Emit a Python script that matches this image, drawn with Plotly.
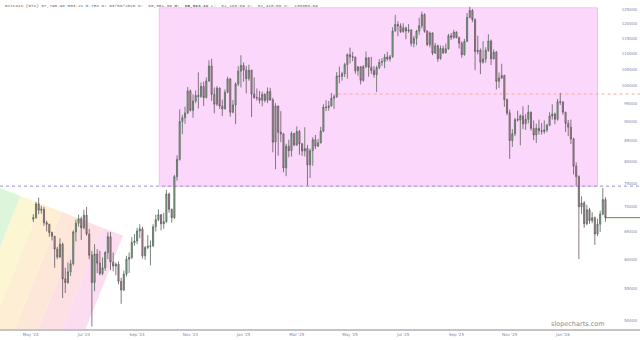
import numpy as np
import pandas as pd
import plotly.graph_objects as go

# ---------------- data (3-day candles) ----------------
candle_start = "2024-06-01"
candle_step = "3D"
first_open = 67500

close = [67800, 70600, 69300, 69500, 66800, 66500, 64900, 64200, 61800, 60400,
         62700, 56600, 56000, 57800, 59200, 65000, 66700, 67600, 65800, 68300,
         64600, 60700, 56000, 60900, 59300, 57500, 58500, 61200, 64100, 59500,
         58800, 59100, 56200, 54800, 57400, 60000, 60300, 63000, 63300, 65200,
         65600, 60600, 62100, 62300, 62400, 66000, 67400, 68400, 66600, 67000,
         72700, 69500, 67800, 76500, 80500, 90000, 91000, 92300, 98500, 93000,
         95600, 97200, 96900, 99800, 96600, 101400, 106000, 97500, 94700, 99300,
         94200, 93400, 98100, 102000, 92500, 94500, 100500, 104400, 106200, 104700,
         102100, 104700, 97600, 96600, 96500, 95800, 97500, 95800, 98300, 95900,
         84700, 94200, 87200, 86800, 78500, 83700, 82600, 86900, 84000, 87400,
         84300, 82500, 83100, 79200, 82600, 85300, 83700, 84500, 87500, 93900,
         93800, 94200, 96400, 96800, 102900, 102800, 103600, 106400, 109600, 108900,
         108800, 104500, 105700, 101600, 105800, 108600, 105600, 104600, 103300, 105500,
         107100, 107400, 108800, 108200, 108900, 117500, 119800, 119300, 117300, 118600,
         117500, 117900, 113300, 115000, 117500, 119300, 123300, 117400, 112900, 116800,
         110100, 112500, 108300, 111600, 110200, 111500, 115900, 115300, 117100, 115200,
         113400, 109600, 114000, 122300, 124800, 121500, 110600, 111000, 107200, 108200,
         111000, 114100, 108300, 110400, 101300, 102300, 103100, 96000, 92300, 85100,
         86800, 90500, 90400, 91500, 89400, 90600, 92500, 88200, 86500, 88200,
         87600, 87400, 87800, 89000, 91500, 92000, 90600, 95400, 95300, 92500,
         89500, 88500, 85500, 78900, 76500, 70000, 70800, 66600, 69400, 67200,
         67800, 64600, 66500, 68500, 71500, 67796]

high = [68500, 71000, 71900, 70200, 70000, 67200, 66600, 65100, 64200, 62200,
        63800, 63000, 58500, 59400, 59900, 65300, 67400, 68400, 68000, 69400,
        70000, 65600, 61500, 62700, 61800, 61500, 60300, 61400, 64900, 65000,
        61200, 59400, 59600, 56800, 58000, 60600, 61200, 64000, 64600, 65800,
        66500, 66000, 62400, 64400, 63400, 66500, 68400, 69500, 68500, 68800,
        73600, 73000, 69600, 76900, 81500, 93300, 91800, 94000, 99600, 98900,
        97500, 98600, 104000, 101000, 101200, 102500, 107800, 108300, 99500, 99900,
        99500, 96000, 98900, 102700, 102300, 95900, 101000, 105900, 109400, 107100,
        106000, 106400, 104800, 102500, 99200, 98500, 98300, 97800, 99500, 99400,
        96500, 95000, 94300, 92800, 86900, 84300, 85300, 87400, 87000, 88700,
        87800, 84500, 88500, 84000, 83100, 85900, 86500, 85500, 88600, 94700,
        95800, 95600, 97900, 97500, 104100, 105800, 104200, 107000, 110000, 111900,
        110500, 108900, 106000, 106000, 106300, 110600, 108700, 108900, 106000, 106100,
        108200, 108500, 109800, 110500, 109500, 118800, 123200, 120900, 120200, 120200,
        119000, 119900, 118000, 115800, 117900, 122200, 124400, 123800, 117800, 117300,
        117000, 113400, 112900, 112600, 112500, 113200, 116500, 116800, 117900, 117400,
        115600, 113900, 114800, 123900, 126200, 125400, 122000, 115900, 111600, 114000,
        112000, 116400, 114600, 111300, 110800, 104000, 106700, 103300, 96300, 93200,
        88000, 91000, 92900, 91900, 94100, 92000, 94500, 92700, 90300, 89400,
        90500, 89600, 90300, 89400, 92500, 94700, 92400, 96200, 97900, 95600,
        92600, 90400, 90500, 85800, 79800, 76800, 72200, 71200, 70400, 69800,
        68900, 68000, 67600, 69200, 74000, 72000]

low = [66900, 67600, 68500, 68600, 66200, 65100, 64100, 63400, 58500, 60000,
       60200, 53500, 54300, 55800, 57100, 58900, 63200, 66000, 63500, 65500,
       64300, 60000, 49200, 54600, 57600, 57200, 57200, 58000, 60000, 58100,
       57900, 57200, 55700, 52600, 54600, 57000, 57600, 60000, 62400, 62700,
       63800, 60100, 59900, 61800, 58900, 62200, 65100, 67100, 65300, 65600,
       66800, 68800, 66800, 67500, 75600, 80200, 86700, 89400, 92000, 92700,
       91000, 95000, 93500, 96500, 94200, 96300, 101200, 95600, 92200, 94200,
       93400, 91500, 93300, 97800, 91300, 92200, 89300, 99900, 99500, 101200,
       97800, 101500, 91200, 96200, 95700, 94900, 94100, 95200, 95000, 95700,
       82200, 78200, 81400, 84700, 77500, 76600, 81000, 81200, 83700, 83800,
       81600, 81300, 81200, 74500, 76200, 79000, 83000, 83500, 84400, 87200,
       92800, 92900, 94100, 93400, 96500, 100700, 101500, 102600, 102100, 106800,
       107500, 103600, 103000, 100400, 101200, 105300, 102700, 103500, 102400, 98200,
       105000, 106000, 105300, 107600, 107400, 108600, 117300, 115700, 116800, 116900,
       114700, 116900, 112300, 112000, 112700, 116200, 118400, 116900, 112400, 112000,
       109400, 109800, 107300, 108000, 109800, 110000, 111200, 114400, 114800, 115000,
       111600, 108600, 109300, 113700, 122000, 120600, 104700, 109700, 103500, 106700,
       107000, 110500, 106300, 108000, 98900, 99300, 102000, 94000, 91700, 80600,
       83500, 86200, 90000, 83900, 88000, 87800, 89500, 87600, 85200, 84500,
       86600, 86600, 86800, 87200, 88800, 90500, 89300, 90200, 94500, 91800,
       87300, 86200, 84200, 77000, 74500, 60000, 68500, 65800, 66300, 66600,
       66700, 62600, 64200, 65000, 68300, 67000]

dates = pd.date_range(candle_start, periods=len(close), freq=candle_step)
opens = [first_open] + close[:-1]

# axis ticks
y_tick_values = [50000, 55000, 60000, 65000, 70000, 75000, 80000, 85000, 90000,
                 95000, 100000, 105000, 110000, 115000, 120000, 125000]
y_tick_labels = [str(v) for v in y_tick_values]
x_tick_dates = ["2024-05-29", "2024-07-28", "2024-09-26", "2024-11-25", "2025-01-24",
                "2025-03-25", "2025-05-24", "2025-07-23", "2025-09-21", "2025-11-20",
                "2026-01-19"]
x_tick_labels = ["May '24", "Jul '24", "Sep '24", "Nov '24", "Jan '25", "Mar '25",
                 "May '25", "Jul '25", "Sep '25", "Nov '25", "Jan '26"]

# drawings
box_dates = ["2024-10-21", "2026-02-27"]
box_prices = [74400, 125800]
support_level = 74400
mid_level = 97600
mid_level_start = "2025-05-10"
last_price = 67796

fan_tip = ("2024-09-10", 64300)
fan_top_left = ("2024-04-24 10:00", 74000)
fan_bottom = ("2024-07-30", 48840)
fan_colors = ["#fbdcf0", "#fde0e4", "#fde7d8", "#feefd4", "#fcf6d3", "#ddf5da"]

x_range = ["2024-04-24 10:00", "2026-04-15 22:00"]
y_range_prices = [48840, 128740]
y_range = [float(np.log10(y_range_prices[0])), float(np.log10(y_range_prices[1]))]

header = ("Bitcoin (BTC) 67,795.98 503.21 0.75% D: 03/08/2026 O:  65,351.30 "
          "<b>H:  65,823.32</b> L:  62,188.89 C:  61,415.06 V:  138858.69")

# ---------------- figure ----------------
fig = go.Figure()

# fan drawing (built in date / log-price space from its anchor points)
t0 = pd.Timestamp("2024-01-01")
def to_tl(d, p):
    return np.array([(pd.Timestamp(d) - t0) / pd.Timedelta(days=1), np.log10(p)])
def from_tl(v):
    return t0 + pd.Timedelta(days=float(v[0])), 10 ** v[1]

A = to_tl(*fan_tip)
C = to_tl(*fan_top_left)
B = to_tl(*fan_bottom)
D = (B - A) * 3.0
n = len(fan_colors)
for i, col in enumerate(fan_colors):
    p1 = A + (C - A) * i / n
    p2 = A + (C - A) * (i + 1) / n
    pts = [p1, p2, p2 + D, p1 + D, p1]
    xs, ys = zip(*[from_tl(p) for p in pts])
    fig.add_trace(go.Scatter(x=list(xs), y=list(ys), fill="toself", fillcolor=col,
                             mode="lines", line=dict(width=0, color=col),
                             hoverinfo="skip", showlegend=False))

# pink box
bx = [box_dates[0], box_dates[1], box_dates[1], box_dates[0], box_dates[0]]
by = [box_prices[0], box_prices[0], box_prices[1], box_prices[1], box_prices[0]]
fig.add_trace(go.Scatter(x=bx, y=by, fill="toself", fillcolor="#fbd8fb",
                         mode="lines", line=dict(width=1, color="#f3bff3"),
                         hoverinfo="skip", showlegend=False))

# dashed levels
fig.add_trace(go.Scatter(x=x_range, y=[support_level, support_level], mode="lines",
                         line=dict(color="#9d93c6", width=1, dash="3px,3px"),
                         hoverinfo="skip", showlegend=False))
fig.add_trace(go.Scatter(x=[mid_level_start, x_range[1]], y=[mid_level, mid_level],
                         mode="lines", line=dict(color="#f2ab95", width=1, dash="3px,3px"),
                         hoverinfo="skip", showlegend=False))

# candles on an overlaid axis so they sit above the drawings
fig.add_trace(go.Candlestick(
    x=dates, open=opens, high=high, low=low, close=close, yaxis="y2",
    increasing=dict(line=dict(color="#56675a", width=0.8), fillcolor="#8fb48f"),
    decreasing=dict(line=dict(color="#655560", width=0.8), fillcolor="#bf96a0"),
    whiskerwidth=0, hoverinfo="skip", showlegend=False))

# last price line
fig.add_trace(go.Scatter(x=[dates[-1], x_range[1]], y=[last_price, last_price],
                         yaxis="y2", mode="lines", line=dict(color="#36a036", width=1),
                         hoverinfo="skip", showlegend=False))

fig.update_layout(
    width=640, height=340,
    margin=dict(l=0, r=0, t=0, b=11),
    paper_bgcolor="white", plot_bgcolor="white",
    showlegend=False, boxgap=0.4,
    xaxis=dict(type="date", range=x_range, showgrid=False, zeroline=False,
               showline=True, linecolor="#c4c4c4", linewidth=1.5,
               tickmode="array", tickvals=x_tick_dates, ticktext=x_tick_labels,
               tickfont=dict(size=4, color="#7c84ad", family="DejaVu Sans"),
               ticks="", rangeslider=dict(visible=False), fixedrange=True),
    yaxis=dict(type="log", side="right", range=y_range,
               showgrid=False, zeroline=False, showline=False,
               tickmode="array", tickvals=y_tick_values, ticktext=y_tick_labels,
               ticklabelposition="inside", ticks="",
               tickfont=dict(size=4, color="#7c84ad", family="DejaVu Sans")),
    yaxis2=dict(type="log", overlaying="y", side="right", range=y_range,
                showgrid=False, zeroline=False, showline=False,
                showticklabels=False, ticks=""),
    annotations=[
        dict(text=header, xref="paper", yref="paper", x=0.004, y=1.0,
             xanchor="left", yanchor="top", showarrow=False, yshift=-1,
             font=dict(family="Liberation Mono", size=4.35, color="#666666")),
        dict(text="slopecharts.com", xref="paper", yref="paper", x=0.949, y=0.016,
             xanchor="right", yanchor="middle", showarrow=False,
             font=dict(family="DejaVu Sans", size=6.5, color="#8a8a8a")),
    ],
)

fig.write_html("out.html")
